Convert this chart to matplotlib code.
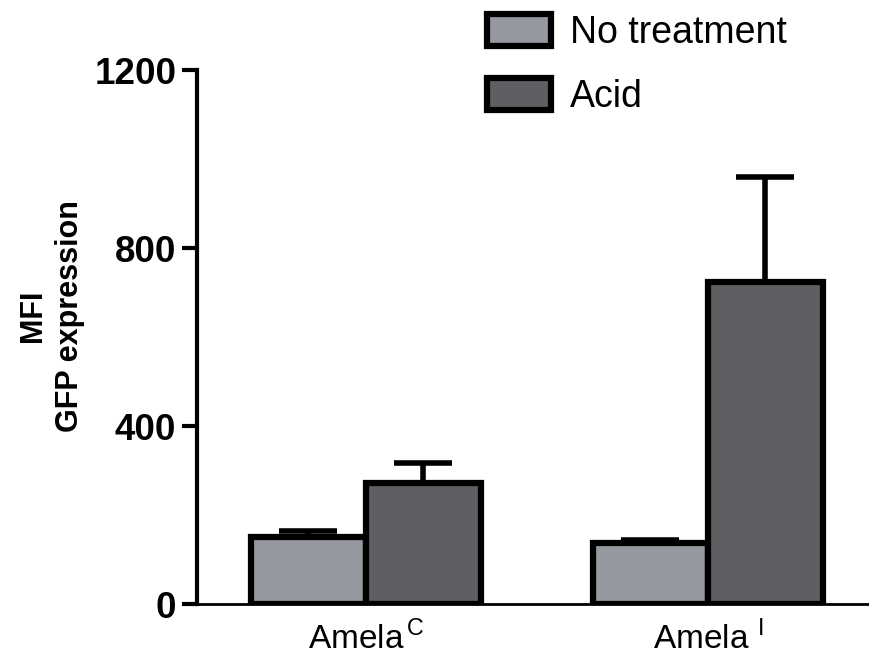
import numpy as np
import matplotlib.pyplot as plt

plt.rcParams['font.family'] = ['Liberation Sans', 'DejaVu Sans']

# data
groups = ['Amela$^\\mathregular{\\,C}$', 'Amela $^\\mathregular{I}$']
no_treatment = [150, 137]
no_treatment_err = [15, 7]
acid = [272, 724]
acid_err = [45, 236]
series_names = ['No treatment', 'Acid']
colors = ['#95989f', '#5e5f63']

fig = plt.figure(figsize=(8.7, 6.61), dpi=100)
ax = fig.add_axes([0.2264, 0.0862, 0.7736, 0.8078])

x = np.arange(len(groups))
w = 0.336
ekw = dict(elinewidth=4, capthick=4, ecolor='black')
ax.bar(x - w / 2, no_treatment, w, yerr=[np.zeros(2), no_treatment_err],
       color=colors[0], edgecolor='black', linewidth=4.5, capsize=21,
       error_kw=ekw, label=series_names[0], zorder=2)
ax.bar(x + w / 2, acid, w, yerr=[np.zeros(2), acid_err],
       color=colors[1], edgecolor='black', linewidth=4.5, capsize=21,
       error_kw=ekw, label=series_names[1], zorder=2)

ax.set_xlim(-0.494, 1.474)
ax.set_ylim(0, 1200)
ax.set_yticks([0, 400, 800, 1200])
ax.set_xticks(x)
ax.set_xticklabels(groups, fontsize=24)
ax.tick_params(axis='x', length=0, pad=12)
ax.tick_params(axis='y', length=11, width=3, labelsize=26.5, pad=4)
for lab in ax.get_yticklabels():
    lab.set_fontweight('bold')

ax.spines['top'].set_visible(False)
ax.spines['right'].set_visible(False)
ax.spines['left'].set_linewidth(3)
ax.spines['bottom'].set_linewidth(2)

ax.set_ylabel('MFI\nGFP expression', fontsize=22, fontweight='bold',
              linespacing=1.3)
ax.yaxis.set_label_coords(-0.167, 0.54)

leg = fig.legend(loc='upper left', bbox_to_anchor=(0.521, 1.03),
                 frameon=False, fontsize=27, handlelength=1.7,
                 handleheight=0.95, labelspacing=0.72, handletextpad=0.5)
for p in leg.get_patches():
    p.set_linewidth(4.5)

fig.savefig('out.png', dpi=100)
